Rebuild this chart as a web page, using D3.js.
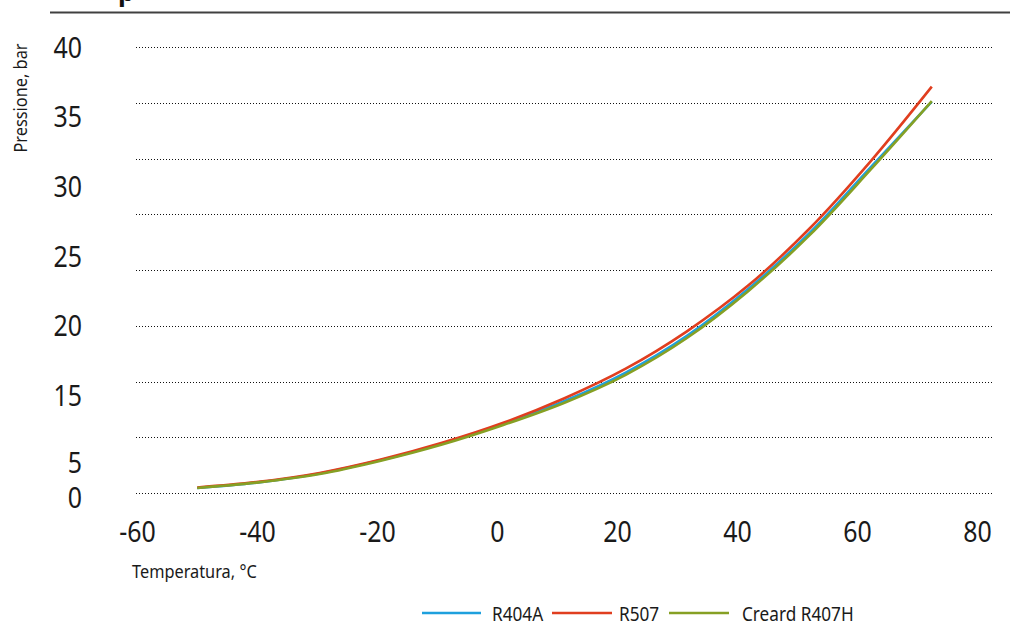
<!DOCTYPE html>
<html>
<head>
<meta charset="utf-8">
<script src="https://cdn.jsdelivr.net/npm/d3@7"></script>
<style>
  html, body { margin: 0; padding: 0; background: #fff; }
  svg { display: block; font-family: "Noto Sans", "Open Sans", sans-serif; }
</style>
</head>
<body>
<svg id="chart" width="1014" height="623"></svg>
<script>
// ---- data ----
const temperatures = [-50, -40, -30, -20, -10, 0, 10, 20, 30, 40, 50, 60, 70];
const r404a  = [0.45, 0.95, 1.75, 2.95, 4.45, 6.2, 8.25, 10.8, 14.1, 18.3, 23.3, 29.2, 35.1];
const r507   = [0.5, 1.0, 1.8, 3.0, 4.5, 6.3, 8.5, 11.15, 14.5, 18.6, 23.7, 29.75, 36.45];
const r407h  = [0.45, 0.95, 1.7, 2.9, 4.35, 6.1, 8.1, 10.6, 13.9, 18.1, 23.1, 29.0, 35.15];
const seriesNames = ["R404A", "R507", "Creard R407H"];
const xTickLabels = [-60, -40, -20, 0, 20, 40, 60, 80];
const yTickLabels = [40, 35, 30, 25, 20, 15, 5, 0];
const gridValues = [0, 5, 10, 15, 20, 25, 30, 35, 40];
const xTitle = "Temperatura, °C";
const yTitle = "Pressione, bar";

const colors = {"R404A": "#1ea0dd", "R507": "#e03e1f", "Creard R407H": "#86a024"};
const series = [
  {name: "R404A", values: r404a},
  {name: "R507", values: r507},
  {name: "Creard R407H", values: r407h}
];

const svg = d3.select("#chart");
const SX = 0.86; // condensed look

// scales
const x = d3.scaleLinear().domain([-60, 80]).range([136, 993]);
const y = d3.scaleLinear().domain([0, 40]).range([493, 47]);
// label placement scales (labels in the reference are not aligned with the grid)
const xLab = d3.scaleLinear().domain([-60, 80]).range([137, 977]);
const yLab = d3.scaleLinear().domain([0, 5, 15, 40]).range([497, 462, 395, 47]);

// top rule and clipped title descender
svg.append("line").attr("x1", 50).attr("x2", 1010).attr("y1", 12.5).attr("y2", 12.5)
  .attr("stroke", "#404040").attr("stroke-width", 1.8);
svg.append("text").attr("x", 118).attr("y", 1).attr("font-size", 26)
  .attr("font-weight", "bold").attr("fill", "#111").text("p");

// gridlines
svg.append("g").selectAll("line").data(gridValues).join("line")
  .attr("x1", x(-60)).attr("x2", x(80))
  .attr("y1", d => Math.round(y(d)) + 0.5).attr("y2", d => Math.round(y(d)) + 0.5)
  .attr("stroke", "#111").attr("stroke-width", 1).attr("stroke-dasharray", "1,2");

// x axis labels
const xAxis = svg.append("g").attr("transform", "translate(0,542)")
  .call(d3.axisBottom(xLab).tickValues(xTickLabels).tickSize(0).tickPadding(0).tickFormat(d => String(d)));
xAxis.select(".domain").remove();
xAxis.selectAll("text").attr("y", 0).attr("dy", 0)
  .attr("font-size", 29).attr("font-family", "Noto Sans, sans-serif").attr("fill", "#1a1a1a")
  .attr("transform", `scale(${SX},1)`);

// y axis labels
const yAxis = svg.append("g").attr("transform", "translate(82,0)")
  .call(d3.axisLeft(yLab).tickValues(yTickLabels).tickSize(0).tickPadding(0).tickFormat(d => String(d)));
yAxis.select(".domain").remove();
yAxis.selectAll("text").attr("x", 0).attr("dy", "0.355em")
  .attr("font-size", 29).attr("font-family", "Noto Sans, sans-serif").attr("fill", "#1a1a1a")
  .attr("transform", `scale(${SX},1)`);

// axis titles
svg.append("g").attr("transform", `translate(132,578) scale(${SX},1)`)
  .append("text").attr("font-size", 19).attr("fill", "#1a1a1a").text(xTitle);
svg.append("g").attr("transform", `translate(27,98) rotate(-90) scale(${SX},1)`)
  .append("text").attr("font-size", 19).attr("text-anchor", "middle").attr("fill", "#1a1a1a").text(yTitle);

// lines
const line = d3.line()
  .x((d, i) => x(temperatures[i]))
  .y(d => y(d))
  .curve(d3.curveCatmullRom.alpha(0.5));

svg.append("g").selectAll("path").data(series).join("path")
  .attr("d", d => line(d.values))
  .attr("fill", "none")
  .attr("stroke", d => colors[d.name])
  .attr("stroke-width", 2.6);

// legend
const legendPos = [
  {name: "R404A", x1: 422, x2: 481, tx: 492},
  {name: "R507", x1: 552, x2: 612, tx: 619},
  {name: "Creard R407H", x1: 669, x2: 729, tx: 742}
];
const lg = svg.append("g");
legendPos.forEach(p => {
  lg.append("line").attr("x1", p.x1).attr("x2", p.x2).attr("y1", 613).attr("y2", 613)
    .attr("stroke", colors[p.name]).attr("stroke-width", 2.6);
  lg.append("g").attr("transform", `translate(${p.tx},621) scale(${SX},1)`)
    .append("text").attr("font-size", 20).attr("fill", "#1a1a1a").text(p.name);
});
</script>
</body>
</html>
